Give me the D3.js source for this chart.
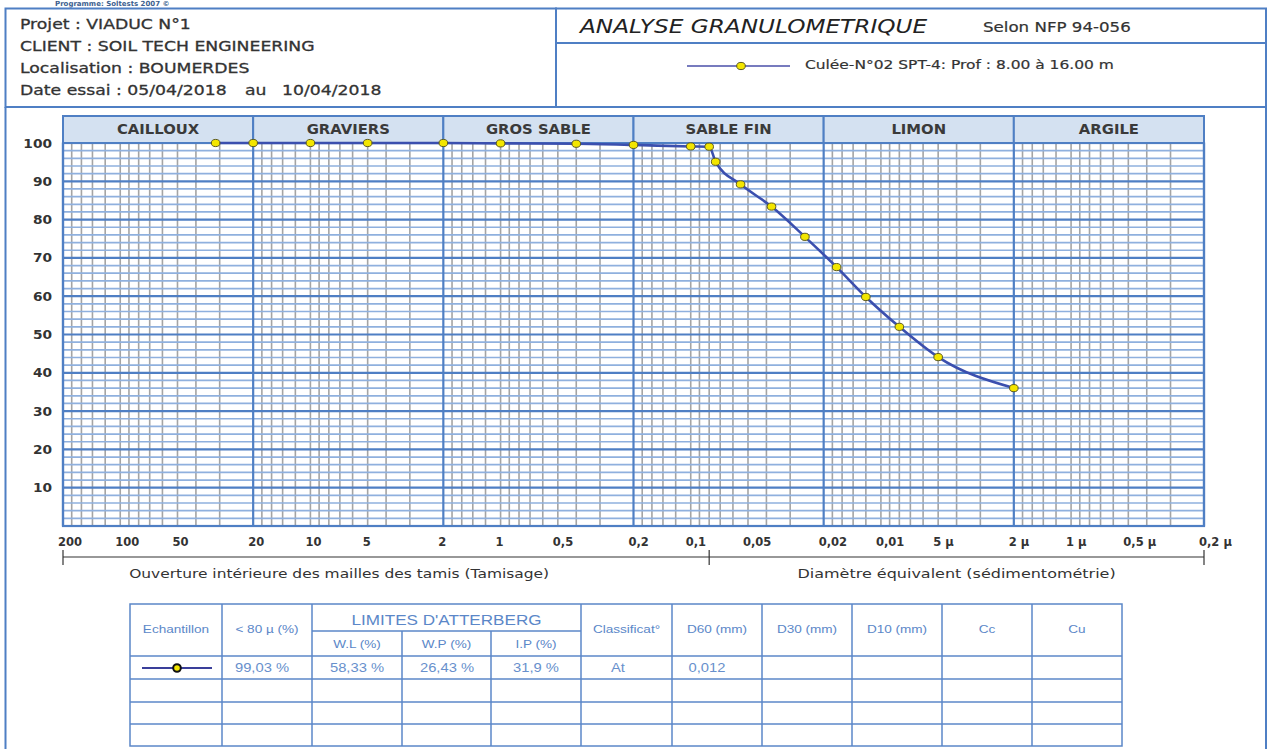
<!DOCTYPE html>
<html>
<head>
<meta charset="utf-8">
<script src="https://cdn.jsdelivr.net/npm/d3@7"></script>
<style>
  body { margin: 0; background: #fff; }
  svg { display: block; }
</style>
</head>
<body>
<svg id="c" width="1269" height="749"></svg>
<script>
// ---- Sample data: sieve analysis (mm, % passing) ----
const sieveSizes   = [31.5, 20, 10, 5, 2, 1, 0.4, 0.2, 0.1, 0.08];
const sievePassing = [100, 100, 100, 100, 100, 99.9, 99.8, 99.5, 99.1, 99.03];

// ---- Sedimentometry (equivalent diameter mm, % passing) ----
const sedSizes   = [0.074, 0.0547, 0.0376, 0.0251, 0.0171, 0.012, 0.008, 0.005, 0.002];
const sedPassing = [95.1, 89.2, 83.4, 75.5, 67.6, 59.8, 52.0, 44.1, 36.0];

// ---- Soil classes and their size bounds (mm) ----
const classNames  = ["CAILLOUX", "GRAVIERS", "GROS SABLE", "SABLE FIN", "LIMON", "ARGILE"];
const classBounds = [200, 20, 2, 0.2, 0.02, 0.002, 0.0002];

// ---- X axis tick labels ----
const xTickValues = [200, 100, 50, 20, 10, 5, 2, 1, 0.5, 0.2, 0.1, 0.05, 0.02, 0.01, 0.005, 0.002, 0.001, 0.0005, 0.0002];
const xTickLabels = ["200", "100", "50", "20", "10", "5", "2", "1", "0,5", "0,2", "0,1", "0,05", "0,02", "0,01", "5 µ", "2 µ", "1 µ", "0,5 µ", "0,2 µ"];
// sub-divisions of one grid band (multiples of its lower bound)
const minorSteps = [1.5, 2, 2.5, 3, 3.5, 4, 4.5, 5, 6, 7, 8, 9];
const yTickValues = [10, 20, 30, 40, 50, 60, 70, 80, 90, 100];

// ---- Summary table values ----
const sampleFines = 99.03;   // < 80 µ (%)
const atterbergWL = 58.33;
const atterbergWP = 26.43;
const atterbergIP = 31.9;
const classification = "At";
const d60 = 0.012;
const tableHeads = ["Echantillon", "< 80 µ (%)", "", "", "", "Classificat°", "D60 (mm)", "D30 (mm)", "D10 (mm)", "Cc", "Cu"];
const atterbergHeads = ["W.L (%)", "W.P (%)", "I.P (%)"];

// ---- Header texts ----
const projectLines = ["Projet : VIADUC N°1", "CLIENT : SOIL TECH ENGINEERING", "Localisation : BOUMERDES"];
const sampleLabel = "Culée-N°02 SPT-4: Prof : 8.00 à 16.00 m";

const svg = d3.select("#c");
const frameBlue = "#4f7fc4";
const minorBlue = "#8fb0de";
const gridGray = "#a4a4a4";
const curveBlue = "#3b4fae";
const textDark = "#333333";
const tableBlue = "#5b87c8";
const sansV = "'DejaVu Sans', Verdana, sans-serif";
const sansA = "'Liberation Sans', Arial, sans-serif";
const WIDE = 1.19;    // horizontal stretch of the report lettering

const fmt = (v, d) => v.toFixed(d).replace(".", ",");

// text placed at (tx, ty) and widened horizontally by sx
function wideText(g, tx, ty, str, sx) {
  return g.append("text")
    .attr("transform", `translate(${tx},${ty}) scale(${sx},1)`)
    .text(str);
}

svg.append("rect").attr("width", 1269).attr("height", 749).attr("fill", "#fff");

// ---------------- Header ----------------
svg.append("text").attr("x", 55).attr("y", 6)
  .attr("font-family", sansV).attr("font-size", 7).attr("font-weight", "bold")
  .attr("fill", "#3d5f8f").text("Programme: Soltests 2007 ©");

const frame = svg.append("g").attr("fill", "none").attr("stroke", frameBlue).attr("stroke-width", 2);
frame.append("rect").attr("x", 5.5).attr("y", 8.5).attr("width", 550.5).attr("height", 98.5);
frame.append("rect").attr("x", 556).attr("y", 8.5).attr("width", 710).attr("height", 98.5);
frame.append("line").attr("x1", 556).attr("x2", 1266).attr("y1", 43).attr("y2", 43);
// page side rules
frame.append("line").attr("x1", 5.5).attr("x2", 5.5).attr("y1", 107).attr("y2", 749);
frame.append("line").attr("x1", 1266).attr("x2", 1266).attr("y1", 107).attr("y2", 749);

const info = svg.append("g").attr("font-family", sansV).attr("font-size", 14.5)
  .attr("fill", textDark).attr("stroke", textDark).attr("stroke-width", 0.3);
projectLines.forEach((t, i) => wideText(info, 20, 29 + i * 22, t, WIDE));
wideText(info, 20, 95, "Date essai : 05/04/2018", WIDE);
wideText(info, 245, 95, "au", WIDE);
wideText(info, 282, 95, "10/04/2018", WIDE);

const title = svg.append("g").attr("font-family", sansV).attr("fill", "#222");
wideText(title, 580, 33, "ANALYSE GRANULOMETRIQUE", WIDE)
  .attr("font-size", 19.5).attr("font-style", "italic");
wideText(title, 983, 32, "Selon NFP 94-056", WIDE)
  .attr("font-size", 14).attr("fill", textDark).attr("stroke", textDark).attr("stroke-width", 0.2);

// legend
svg.append("line").attr("x1", 687).attr("x2", 790).attr("y1", 66).attr("y2", 66)
  .attr("stroke", "#4a4fa8").attr("stroke-width", 1.5);
svg.append("ellipse").attr("cx", 741).attr("cy", 66).attr("rx", 4.3).attr("ry", 3.6)
  .attr("fill", "#f3e600").attr("stroke", "#5d5a1e").attr("stroke-width", 1);
wideText(svg, 805, 69, sampleLabel, WIDE)
  .attr("font-family", sansV).attr("font-size", 13).attr("fill", textDark)
  .attr("stroke", textDark).attr("stroke-width", 0.2);

// ---------------- Chart ----------------
const x = d3.scaleLog().domain([200, 0.0002]).range([63, 1204]);
const y = d3.scaleLinear().domain([0, 100]).range([526, 143]);
const x0 = x.range()[0], x1 = x.range()[1];
const yTop = y(100), yBot = y(0);

const grid = svg.append("g");

// gray vertical sub-divisions
const minorX = [];
for (let i = 0; i < classBounds.length - 1; i++) {
  const lo = classBounds[i + 1];
  minorSteps.forEach(m => minorX.push(lo * m));
}
grid.selectAll("line.vmin").data(minorX).join("line")
  .attr("x1", d => x(d)).attr("x2", d => x(d))
  .attr("y1", yTop).attr("y2", yBot)
  .attr("stroke", gridGray).attr("stroke-width", 1.6);

// light blue horizontal lines every 2 %
const minorY = d3.range(2, 100, 2).filter(v => v % 10 !== 0);
grid.selectAll("line.hmin").data(minorY).join("line")
  .attr("x1", x0).attr("x2", x1)
  .attr("y1", d => y(d)).attr("y2", d => y(d))
  .attr("stroke", minorBlue).attr("stroke-width", 1.7);

// blue major horizontals every 10 %
grid.selectAll("line.hmaj").data(yTickValues).join("line")
  .attr("x1", x0).attr("x2", x1)
  .attr("y1", d => y(d)).attr("y2", d => y(d))
  .attr("stroke", frameBlue).attr("stroke-width", 2.2);

// blue class boundaries
grid.selectAll("line.vmaj").data(classBounds).join("line")
  .attr("x1", d => x(d)).attr("x2", d => x(d))
  .attr("y1", yTop).attr("y2", yBot)
  .attr("stroke", frameBlue).attr("stroke-width", 2.2);

grid.append("rect").attr("x", x0).attr("y", yTop).attr("width", x1 - x0).attr("height", yBot - yTop)
  .attr("fill", "none").attr("stroke", frameBlue).attr("stroke-width", 2.2);

// class header band
const band = svg.append("g");
const classes = classNames.map((n, i) => ({ name: n, hi: classBounds[i], lo: classBounds[i + 1] }));
band.selectAll("rect").data(classes).join("rect")
  .attr("x", d => x(d.hi)).attr("width", d => x(d.lo) - x(d.hi))
  .attr("y", 116).attr("height", yTop - 116)
  .attr("fill", "#d4e1f1").attr("stroke", frameBlue).attr("stroke-width", 2);
band.selectAll("text").data(classes).join("text")
  .attr("transform", d => `translate(${(x(d.hi) + x(d.lo)) / 2},134) scale(1.06,1)`)
  .attr("text-anchor", "middle")
  .attr("font-family", sansV).attr("font-size", 14).attr("font-weight", "bold")
  .attr("fill", "#3a3a3a").text(d => d.name);

// y labels
svg.append("g").selectAll("text").data(yTickValues).join("text")
  .attr("transform", d => `translate(52,${y(d) + 4.5}) scale(1.1,1)`)
  .attr("text-anchor", "end")
  .attr("font-family", sansV).attr("font-size", 12.5).attr("font-weight", "bold")
  .attr("fill", textDark).text(d => d);

// x labels
svg.append("g").selectAll("text").data(xTickValues).join("text")
  .attr("x", d => x(d) - 5).attr("y", 546)
  .attr("font-family", sansV).attr("font-size", 11.5).attr("font-weight", "bold")
  .attr("fill", textDark).text((d, i) => xTickLabels[i]);

// method bracket below the axis
const splitSize = sieveSizes[sieveSizes.length - 1];
const bracket = svg.append("g").attr("stroke", "#333").attr("stroke-width", 1.2);
bracket.append("line").attr("x1", x0).attr("x2", x1).attr("y1", 557).attr("y2", 557);
[200, splitSize, 0.0002].forEach(v => {
  bracket.append("line").attr("x1", x(v)).attr("x2", x(v)).attr("y1", 550).attr("y2", 565);
});
const notes = svg.append("g").attr("font-family", sansV).attr("font-size", 13)
  .attr("fill", textDark).attr("text-anchor", "middle");
wideText(notes, (x0 + x(splitSize)) / 2 - 47, 578, "Ouverture intérieure des mailles des tamis (Tamisage)", WIDE);
wideText(notes, (x(splitSize) + x1) / 2, 578, "Diamètre équivalent (sédimentométrie)", 1.23);

// grading curve
const points = sieveSizes.map((s, i) => ({ size: s, pass: sievePassing[i] }))
  .concat(sedSizes.map((s, i) => ({ size: s, pass: sedPassing[i] })));
const line = d3.line().x(d => x(d.size)).y(d => y(d.pass)).curve(d3.curveMonotoneX);
svg.append("path").datum(points).attr("d", line)
  .attr("fill", "none").attr("stroke", curveBlue).attr("stroke-width", 2.6);
svg.append("g").selectAll("ellipse").data(points).join("ellipse")
  .attr("cx", d => x(d.size)).attr("cy", d => y(d.pass))
  .attr("rx", 4.3).attr("ry", 3.6)
  .attr("fill", "#f3e600").attr("stroke", "#5d5a1e").attr("stroke-width", 1);

// ---------------- Summary table ----------------
const colX = [130, 222, 312, 402, 491, 581, 672, 762, 852, 942, 1032, 1122];
const rowY = [604, 656, 679, 702, 724, 746];
const tbl = svg.append("g").attr("stroke", tableBlue).attr("stroke-width", 1.5).attr("fill", "none");
tbl.append("rect").attr("x", colX[0]).attr("y", rowY[0])
  .attr("width", colX[colX.length - 1] - colX[0]).attr("height", rowY[rowY.length - 1] - rowY[0]);
rowY.slice(1, -1).forEach(r => {
  tbl.append("line").attr("x1", colX[0]).attr("x2", colX[colX.length - 1]).attr("y1", r).attr("y2", r);
});
colX.slice(1, -1).forEach((c, i) => {
  const top = (i === 2 || i === 3) ? 631 : rowY[0];
  tbl.append("line").attr("x1", c).attr("x2", c).attr("y1", top).attr("y2", rowY[rowY.length - 1]);
});
tbl.append("line").attr("x1", colX[2]).attr("x2", colX[5]).attr("y1", 631).attr("y2", 631);

const TW = 1.18;
const tt = svg.append("g").attr("font-family", sansA).attr("fill", tableBlue).attr("text-anchor", "middle");
tableHeads.forEach((h, i) => {
  if (!h) return;
  wideText(tt, (colX[i] + colX[i + 1]) / 2, 633, h, TW).attr("font-size", 11.5);
});
wideText(tt, (colX[2] + colX[5]) / 2, 625, "LIMITES D'ATTERBERG", TW).attr("font-size", 14.5);
atterbergHeads.forEach((h, i) => {
  wideText(tt, (colX[2 + i] + colX[3 + i]) / 2, 648, h, TW).attr("font-size", 11.5);
});
const rowVals = [fmt(sampleFines, 2) + " %", fmt(atterbergWL, 2) + " %", fmt(atterbergWP, 2) + " %",
                 fmt(atterbergIP, 1) + " %", classification, fmt(d60, 3)];
const rowCx = [262, 357, 447, 536, 618, 707];
rowVals.forEach((v, i) => {
  wideText(tt, rowCx[i], 672, v, TW).attr("font-size", 12.5).attr("fill", "#6890cc");
});
// sample symbol
svg.append("line").attr("x1", 142).attr("x2", 212).attr("y1", 668).attr("y2", 668)
  .attr("stroke", "#3a3f9a").attr("stroke-width", 2);
svg.append("circle").attr("cx", 177).attr("cy", 668).attr("r", 3.8)
  .attr("fill", "#f3e600").attr("stroke", "#111").attr("stroke-width", 2);
</script>
</body>
</html>
